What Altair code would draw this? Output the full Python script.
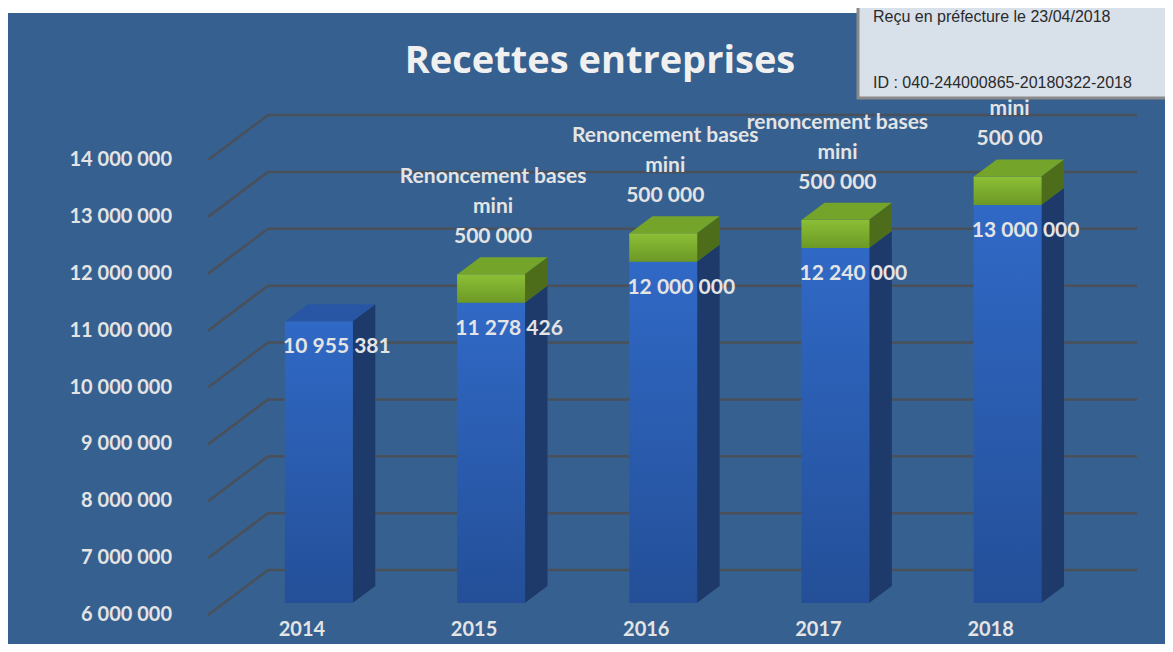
import altair as alt
import pandas as pd

# ---------------- data ----------------
years = [2014, 2015, 2016, 2017, 2018]
recettes = [10955381, 11278426, 12000000, 12240000, 13000000]
renoncement = [0, 500000, 500000, 500000, 500000]
value_labels = ["10 955 381", "11 278 426", "12 000 000", "12 240 000", "13 000 000"]
reno_labels = [
    "",
    "Renoncement bases\nmini\n500 000",
    "Renoncement bases\nmini\n500 000",
    "renoncement  bases\nmini\n500 000",
    "\nmini\n500 00",  # first line hidden behind the stamp in the original
]
y_ticks = [6000000, 7000000, 8000000, 9000000, 10000000,
           11000000, 12000000, 13000000, 14000000]
y_tick_labels = ["6 000 000", "7 000 000", "8 000 000", "9 000 000", "10 000 000",
                 "11 000 000", "12 000 000", "13 000 000", "14 000 000"]
title_text = "Recettes entreprises"
stamp_line1 = "Reçu en préfecture le 23/04/2018"
stamp_line2 = "ID : 040-244000865-20180322-2018"

# ---------------- layout / geometry (pixels) ----------------
W, H = 957, 455
PAD = {"left": 200, "top": 152, "right": 0, "bottom": 29}
Y_MIN, Y_MAX = 6000000, 14000000
PX_PER_YEAR = 174.0
FIRST_CENTER_PX = 107.0
x0 = years[0] - FIRST_CENTER_PX / PX_PER_YEAR
x1 = x0 + W / PX_PER_YEAR
UNIT_PER_PX = (Y_MAX - Y_MIN) / H

BAR_W_PX = 68
DEPTH_X_PX = 23
DEPTH_Y_PX = 17
half_w = (BAR_W_PX / 2) / PX_PER_YEAR
dxY = DEPTH_X_PX / PX_PER_YEAR
dyV = DEPTH_Y_PX * UNIT_PER_PX
LIFT = -12  # bars stand slightly behind the front axis plane

xscale = alt.Scale(domain=[x0, x1], nice=False, zero=False)
yscale = alt.Scale(domain=[Y_MIN, Y_MAX], nice=False, zero=False)

FONT = "Lato"
TXT = "#e4e4e4"
BG = "#36608f"

# ---------------- derived tables ----------------
bars = pd.DataFrame({
    "year": years,
    "ylab": [str(y) for y in years],
    "recettes": recettes,
    "total": [r + g for r, g in zip(recettes, renoncement)],
    "base": [Y_MIN] * len(years),
    "vlabel": value_labels,
    "rlabel": reno_labels,
})
green = bars[[g > 0 for g in renoncement]]

side_rows, top_rows = [], []
for yr, r, g in zip(years, recettes, renoncement):
    segs = [("blue", Y_MIN, r)]
    if g > 0:
        segs.append(("green", r, r + g))
    for seg, b, t in segs:
        key = f"{yr}-{seg}"
        side_rows.append(dict(k=key, seg=seg, x=yr + half_w, top=t, bot=b))
        side_rows.append(dict(k=key, seg=seg, x=yr + half_w + dxY, top=t + dyV, bot=b + dyV))
    seg, b, t = segs[-1]
    key = f"{yr}-{seg}"
    top_rows.append(dict(k=key, seg=seg, y=t, xl=yr - half_w, xr=yr + half_w))
    top_rows.append(dict(k=key, seg=seg, y=t + dyV, xl=yr - half_w + dxY, xr=yr + half_w + dxY))
side_df = pd.DataFrame(side_rows)
top_df = pd.DataFrame(top_rows)
grid_df = pd.DataFrame({"v": y_ticks, "lab": y_tick_labels})

# ---------------- layers ----------------
white_band = alt.Chart(pd.DataFrame({"a": [0]})).mark_rect(color="white").encode(
    x=alt.value(-PAD["left"]), x2=alt.value(W), y=alt.value(-PAD["top"]), y2=alt.value(-PAD["top"] + 5)
)

grid_diag = alt.Chart(grid_df).mark_rule(color="#4a505a", strokeWidth=2.5, y2Offset=-45).encode(
    x=alt.value(0), x2=alt.value(60),
    y=alt.Y("v:Q", scale=yscale, axis=None), y2="v:Q",
)
grid_horiz = alt.Chart(grid_df).mark_rule(color="#4a505a", strokeWidth=2.5, yOffset=-45).encode(
    x=alt.value(60), x2=alt.value(929),
    y=alt.Y("v:Q", scale=yscale, axis=None),
)
y_labels = alt.Chart(grid_df).mark_text(font=FONT, fontSize=20, fontWeight="bold", color=TXT,
                                        align="right", baseline="middle").encode(
    x=alt.value(-36),
    y=alt.Y("v:Q", scale=yscale, axis=None),
    text="lab:N",
)

side = alt.Chart(side_df).mark_area(yOffset=LIFT, y2Offset=LIFT).encode(
    x=alt.X("x:Q", scale=xscale, axis=None),
    y=alt.Y("top:Q", scale=yscale, axis=None), y2="bot:Q",
    detail="k:N",
    color=alt.Color("seg:N", scale=alt.Scale(domain=["blue", "green"], range=["#1d3a6b", "#4e6d1a"]), legend=None),
)

top = alt.Chart(top_df).mark_area(orient="horizontal", yOffset=LIFT).encode(
    y=alt.Y("y:Q", scale=yscale, axis=None),
    x=alt.X("xl:Q", scale=xscale, axis=None), x2="xr:Q",
    detail="k:N",
    color=alt.Color("seg:N", scale=alt.Scale(domain=["blue", "green"], range=["#2856a5", "#74a42a"]), legend=None),
)

blue_grad = alt.Gradient(gradient="linear", x1=0, x2=0, y1=0, y2=1,
                         stops=[alt.GradientStop(color="#3069c6", offset=0),
                                alt.GradientStop(color="#244f98", offset=1)])
green_grad = alt.Gradient(gradient="linear", x1=0, x2=0, y1=0, y2=1,
                          stops=[alt.GradientStop(color="#8cbf36", offset=0),
                                 alt.GradientStop(color="#6c9926", offset=1)])

front_blue = alt.Chart(bars).mark_bar(size=BAR_W_PX, yOffset=LIFT, y2Offset=LIFT, color=blue_grad).encode(
    x=alt.X("year:Q", scale=xscale, axis=None),
    y=alt.Y("recettes:Q", scale=yscale, axis=None),
    y2="base:Q",
)

front_green = alt.Chart(green).mark_bar(size=BAR_W_PX, yOffset=LIFT, y2Offset=LIFT, color=green_grad).encode(
    x=alt.X("year:Q", scale=xscale, axis=None),
    y=alt.Y("total:Q", scale=yscale, axis=None),
    y2="recettes:Q",
)

year_text = alt.Chart(bars).mark_text(font=FONT, fontSize=20, fontWeight="bold", color=TXT,
                                      baseline="top", dx=-17, dy=5).encode(
    x=alt.X("year:Q", scale=xscale, axis=None),
    y=alt.Y("base:Q", scale=yscale, axis=None),
    text="ylab:N",
)

value_text = alt.Chart(bars).mark_text(font=FONT, fontSize=21, fontWeight="bold", color=TXT,
                                       dx=18, dy=LIFT + 26).encode(
    x=alt.X("year:Q", scale=xscale, axis=None),
    y=alt.Y("recettes:Q", scale=yscale, axis=None),
    text="vlabel:N",
)

reno_text = alt.Chart(green).mark_text(font=FONT, fontSize=21, fontWeight="bold", color=TXT,
                                       baseline="middle", lineBreak="\n", lineHeight=30,
                                       dx=2, dy=LIFT - 97).encode(
    x=alt.X("year:Q", scale=xscale, axis=None),
    y=alt.Y("total:Q", scale=yscale, axis=None),
    text="rlabel:N",
)

title = alt.Chart(pd.DataFrame({"t": [title_text]})).mark_text(
    font="Open Sans", fontSize=38, fontWeight="bold", color="#f0f0f0", align="center", baseline="middle"
).encode(x=alt.value(392), y=alt.value(-98), text="t:N")

stamp_box = alt.Chart(pd.DataFrame({"a": [0]})).mark_rect(fill="#d8e0ea", stroke="#8a8a8a", strokeWidth=3).encode(
    x=alt.value(650), x2=alt.value(W + 20), y=alt.value(-PAD["top"] - 20), y2=alt.value(-62)
)
stamp_t1 = alt.Chart(pd.DataFrame({"t": [stamp_line1]})).mark_text(
    font="Liberation Sans", fontSize=16, color="#2a2a2a", align="left", baseline="middle"
).encode(x=alt.value(665), y=alt.value(-143), text="t:N")
stamp_t2 = alt.Chart(pd.DataFrame({"t": [stamp_line2]})).mark_text(
    font="Liberation Sans", fontSize=16, color="#2a2a2a", align="left", baseline="middle"
).encode(x=alt.value(665), y=alt.value(-77), text="t:N")

chart = alt.layer(
    white_band, grid_diag, grid_horiz, y_labels, side, front_blue, front_green, top,
    year_text, value_text, reno_text, title, stamp_box, stamp_t1, stamp_t2,
).resolve_scale(color="independent").properties(
    width=W, height=H, padding=PAD, autosize=alt.AutoSizeParams(type="none"),
).configure(background=BG).configure_view(stroke=None)

chart.save("out.html", embed_options={"renderer": "svg", "actions": False})
